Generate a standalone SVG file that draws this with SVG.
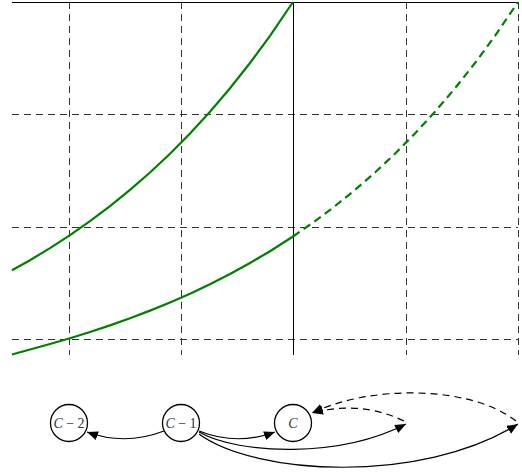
<svg xmlns="http://www.w3.org/2000/svg" width="522" height="474" viewBox="0 0 522 474">
<style>
.grid{stroke:#333;stroke-width:1;stroke-dasharray:7,5;fill:none}
.axis{stroke:#000;stroke-width:1;fill:none}
.curve{stroke:#008000;stroke-width:2.2;fill:none}
.curved{stroke:#008000;stroke-width:2.2;fill:none;stroke-dasharray:8,5}
.node{fill:#fff;stroke:#000;stroke-width:1.3}
.lbl{font-family:"Liberation Serif",serif;font-size:14px;fill:#333;text-anchor:middle}
.edge{stroke:#000;stroke-width:1.2;fill:none;marker-end:url(#arr)}
.edged{stroke:#000;stroke-width:1.2;fill:none;stroke-dasharray:7,5;marker-end:url(#arr)}
</style>
<defs>
<marker id="arr" markerUnits="userSpaceOnUse" markerWidth="12" markerHeight="10" refX="11" refY="4.5" orient="auto">
<path d="M0,0 L11,4.5 L0,9 z" fill="#000"/>
</marker>
</defs>
<g id="plot">
<line class="grid" x1="69.5" y1="2" x2="69.5" y2="355"/>
<line class="grid" x1="181.5" y1="2" x2="181.5" y2="355"/>
<line class="grid" x1="406.5" y1="2" x2="406.5" y2="355"/>
<line class="grid" x1="518.5" y1="2" x2="518.5" y2="355"/>
<line class="grid" x1="12" y1="114.5" x2="518" y2="114.5"/>
<line class="grid" x1="12" y1="227.5" x2="518" y2="227.5"/>
<line class="grid" x1="12" y1="339.5" x2="518" y2="339.5"/>
<line class="axis" x1="12" y1="2.5" x2="518" y2="2.5"/>
<line class="axis" x1="293.5" y1="2" x2="293.5" y2="355"/>
<path class="curve" d="M12,270.3 L30,260.2 L50,248.1 L70,235.1 L90,221.2 L110,206.1 L130,189.9 L150,172.5 L170,153.7 L190,133.5 L210,111.7 L230,88.3 L250,63 L270,35.9 L293,2"/>
<path class="curve" d="M12,354.5 L30,349.5 L50,344 L70,338.2 L90,332 L110,325.4 L130,318.3 L150,310.6 L170,302.5 L190,293.7 L210,284.2 L230,274 L250,263 L270,251.2 L293,236.5"/>
<path class="curved" d="M293,236.5 L315,221.2 L335,206.1 L355,189.9 L375,172.5 L395,153.7 L415,133.5 L435,111.7 L455,88.3 L475,63 L495,35.9 L518,2"/>
</g>
<g id="edges">
<path class="edge" d="M164,431 Q125,446 87,432"/>
<path class="edge" d="M199,431 Q237,446 275,432"/>
<path class="edge" d="M199,432 C240,455 340,458 406,424"/>
<path class="edge" d="M199,434 C255,475 420,485 518,424"/>
<path class="edged" d="M404,421 Q360,400 312,413"/>
<path class="edged" d="M516,421 C470,385 370,385 312,413"/>
</g>
<g id="n-c2">
<circle class="node" cx="69" cy="423" r="18.5"/>
<text class="lbl" x="69" y="428"><tspan font-style="italic">C</tspan> − 2</text>
</g>
<g id="n-c1">
<circle class="node" cx="181" cy="423" r="18.5"/>
<text class="lbl" x="181" y="428"><tspan font-style="italic">C</tspan> − 1</text>
</g>
<g id="n-c">
<circle class="node" cx="293" cy="423" r="18.5"/>
<text class="lbl" x="293" y="428" font-style="italic">C</text>
</g>
</svg>
